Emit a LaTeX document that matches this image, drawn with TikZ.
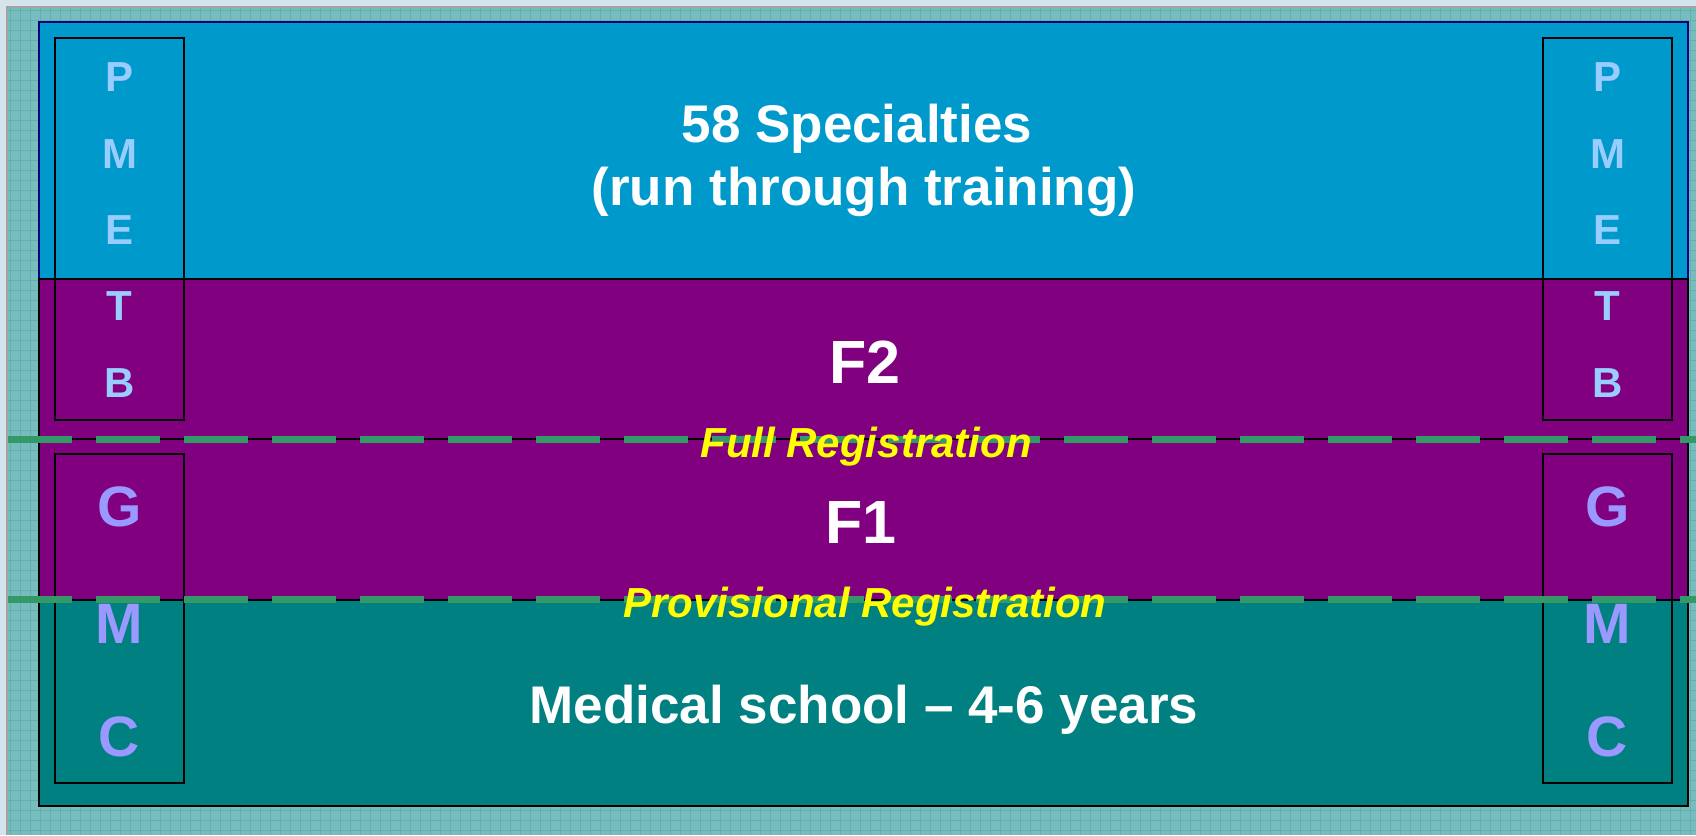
\documentclass[tikz,border=0pt]{standalone}
\usepackage{fontspec}
\setmainfont{Liberation Sans}
\definecolor{pagebg}{HTML}{D5E3EA}
\definecolor{patbg}{HTML}{78BDBD}
\definecolor{patline}{HTML}{62AFAF}
\definecolor{greyline}{HTML}{A3A3A3}
\definecolor{specblue}{HTML}{0099CC}
\definecolor{fpurple}{HTML}{800080}
\definecolor{medteal}{HTML}{008080}
\definecolor{navyline}{HTML}{000080}
\definecolor{reggreen}{HTML}{339966}
\definecolor{pmetbcol}{HTML}{99CCFF}
\definecolor{gmccol}{HTML}{9999FF}
\definecolor{regyellow}{HTML}{FFFF00}
\tikzset{
  band/.style={draw=black, line width=2pt},
  sidebox/.style={draw=black, line width=2.5pt},
  regline/.style={draw=reggreen, line width=7pt, dash pattern=on 64pt off 24pt},
  pmetb/.style={anchor=base, text=pmetbcol, font=\fontsize{42}{42}\selectfont\bfseries, inner sep=0pt},
  gmc/.style={anchor=base, text=gmccol, font=\fontsize{57}{57}\selectfont\bfseries, inner sep=0pt},
  bigtext/.style={anchor=base, text=white, font=\fontsize{53}{53}\selectfont\bfseries, inner sep=0pt},
  ftext/.style={anchor=base, text=white, font=\fontsize{61}{61}\selectfont\bfseries, inner sep=0pt},
  regtext/.style={anchor=base, text=regyellow, font=\fontsize{42}{42}\selectfont\bfseries\itshape, inner sep=0pt}
}
\begin{document}
\begin{tikzpicture}[x=1pt,y=-1pt]
\useasboundingbox (0,0) rectangle (1696,835);
% page background and texture
\fill[pagebg] (0,0) rectangle (1696,835);
\fill[patbg] (8,8) rectangle (1696,835);
\draw[patline, line width=1pt, step=10pt] (8,8) grid (1696,835);
\draw[greyline, line width=2pt] (7,835) -- (7,7) -- (1696,7);
% bands
\draw[band, draw=navyline, fill=specblue] (39,22) rectangle (1688,279);
\draw[band, fill=fpurple] (39,279) rectangle (1688,439);
\draw[band, fill=fpurple] (39,439) rectangle (1688,600);
\draw[band, fill=medteal] (39,600) rectangle (1688,806);
% side boxes
\draw[sidebox] (55,38) rectangle (184,420);
\draw[sidebox] (1543,38) rectangle (1672,420);
\draw[sidebox] (55,454) rectangle (184,783);
\draw[sidebox] (1543,454) rectangle (1672,783);
% registration lines
\draw[regline] (8,439) -- (1696,439);
\draw[regline] (8,599) -- (1696,599);
% PMETB letters
\foreach \n/\l/\y in {1/P/91, 2/M/168, 3/E/244, 4/T/320, 5/B/397} {
  \node[pmetb] (pl\n) at (119.5,\y) {\l};
  \node[pmetb] (pr\n) at (1607.5,\y) {\l};
}
% GMC letters
\foreach \n/\l/\y in {1/G/526, 2/M/643, 3/C/756} {
  \node[gmc] (gl\n) at (119.5,\y) {\l};
  \node[gmc] (gr\n) at (1607.5,\y) {\l};
}
% main texts
\node[bigtext] (spec1) at (857,142) {58 Specialties};
\node[bigtext] (spec2) at (864,205) {(run through training)};
\node[ftext] (f2) at (865,383) {F2};
\node[ftext] (f1) at (861,543) {F1};
\node[regtext] (fullreg) at (866,457) {Full Registration};
\node[regtext] (provreg) at (865,617) {Provisional Registration};
\node[bigtext] (med) at (864,723) {Medical school – 4-6 years};
\end{tikzpicture}
\end{document}
